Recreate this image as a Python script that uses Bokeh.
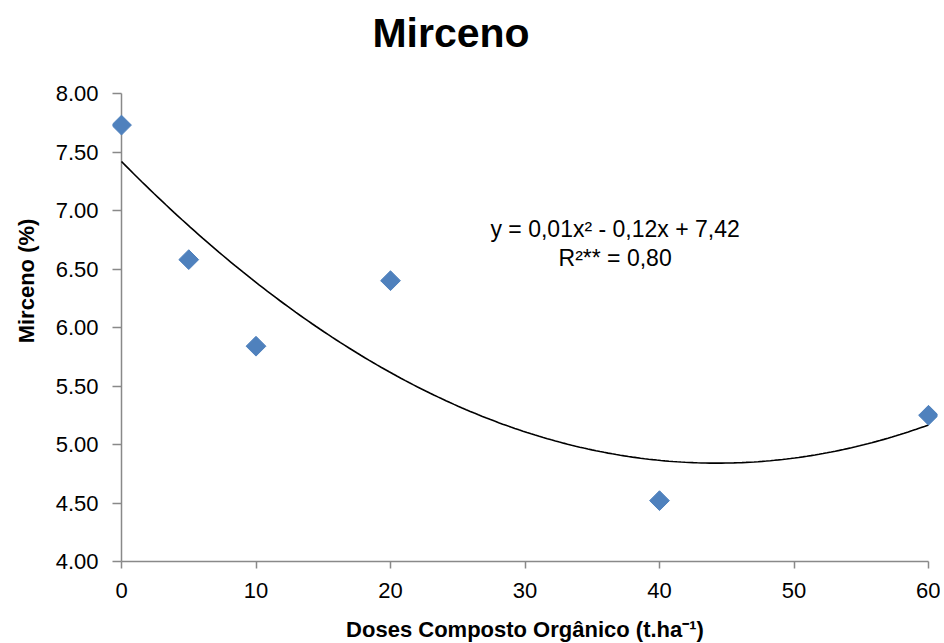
import numpy as np
from bokeh.plotting import figure
from bokeh.models import FixedTicker, NumeralTickFormatter, Label, Range1d
from bokeh.embed import file_html
from bokeh.resources import INLINE

# Data
doses = [0, 5, 10, 20, 40, 60]
mirceno = [7.73, 6.58, 5.84, 6.40, 4.52, 5.25]
x_ticks = [0, 10, 20, 30, 40, 50, 60]
y_ticks = [4.0, 4.5, 5.0, 5.5, 6.0, 6.5, 7.0, 7.5, 8.0]
title_text = "Mirceno"
x_label = "Doses Composto Orgânico (t.ha⁻¹)"
y_label = "Mirceno (%)"
eq_line1 = "y = 0,01x² - 0,12x + 7,42"
eq_line2 = "R²** = 0,80"

# Quadratic trend line fitted to the data (as the spreadsheet trendline)
coef = np.polyfit(doses, mirceno, 2)
xs = np.linspace(min(doses), max(doses), 200)
ys = np.polyval(coef, xs)

FONT = "Liberation Sans"
AXIS_COLOR = "#898989"
X0, X1 = min(x_ticks), max(x_ticks)
Y0, Y1 = min(y_ticks), max(y_ticks)

PX_PER_X = 807 / (X1 - X0)
PAD_PX = 9                            # room left/right of the data for the markers
XPAD = PAD_PX / PX_PER_X
FRAME_W = 807 + 2 * PAD_PX
FRAME_H = 561
px_per_y = 117.0
y_end = Y1 + 93 / px_per_y            # room above the axis for the title

p = figure(
    width=940, height=640,
    frame_width=FRAME_W, frame_height=FRAME_H,
    min_border_left=112, min_border_right=940 - 112 - FRAME_W, min_border_top=0,
    min_border_bottom=79,
    x_range=Range1d(X0 - XPAD, X1 + XPAD), y_range=Range1d(Y0, y_end),
    output_backend="svg", toolbar_location=None,
)
p.outline_line_color = None
p.grid.visible = False
p.background_fill_color = "white"
p.border_fill_color = "white"

# Axes
p.xaxis.ticker = FixedTicker(ticks=x_ticks)
p.yaxis.ticker = FixedTicker(ticks=y_ticks)
p.yaxis.formatter = NumeralTickFormatter(format="0.00")
p.xaxis.bounds = (X0, X1)
for ax in (p.xaxis, p.yaxis):
    ax.axis_line_color = AXIS_COLOR
    ax.axis_line_width = 1.5
    ax.major_tick_line_color = AXIS_COLOR
    ax.major_tick_line_width = 1.5
    ax.major_tick_out = 7
    ax.major_tick_in = 0
    ax.minor_tick_line_color = None
    ax.major_label_text_font = FONT
    ax.major_label_text_font_size = "22px"
    ax.major_label_text_color = "black"
    ax.axis_label_text_font = FONT
    ax.axis_label_text_font_size = "22px"
    ax.axis_label_text_font_style = "bold"
    ax.axis_label_text_color = "black"
# y axis sits at the frame edge; its ticks reach inward to x = 0 where its line is drawn
p.yaxis.axis_line_color = None
p.yaxis.major_tick_out = 0
p.yaxis.major_tick_in = PAD_PX
p.xaxis.axis_label = x_label
p.yaxis.axis_label = y_label
p.xaxis.major_label_standoff = 14
p.yaxis.major_label_standoff = 14
p.xaxis.axis_label_standoff = 16
p.yaxis.axis_label_standoff = 14

p.segment(x0=[X0], y0=[Y0], x1=[X0], y1=[Y1], line_color=AXIS_COLOR, line_width=1.5)

# Trend line
p.line(xs, ys, line_color="black", line_width=1.6)

# Points
p.scatter(doses, mirceno, marker="square", size=14, angle=np.pi / 4,
          fill_color="#4F81BD", line_color="#4F81BD")

# Title
p.add_layout(Label(x=24.5, y=Y1 + 61 / px_per_y, text=title_text, text_align="center",
                   text_baseline="alphabetic", text_font=FONT, text_font_size="41px",
                   text_font_style="bold", text_color="black"))

# Equation
for txt, yv in ((eq_line1, 6.84), (eq_line2, 6.59)):
    p.add_layout(Label(x=36.7, y=yv, text=txt, text_align="center",
                       text_baseline="middle", text_font=FONT,
                       text_font_size="23px", text_color="black"))

open("out.html", "w").write(file_html(p, INLINE))
